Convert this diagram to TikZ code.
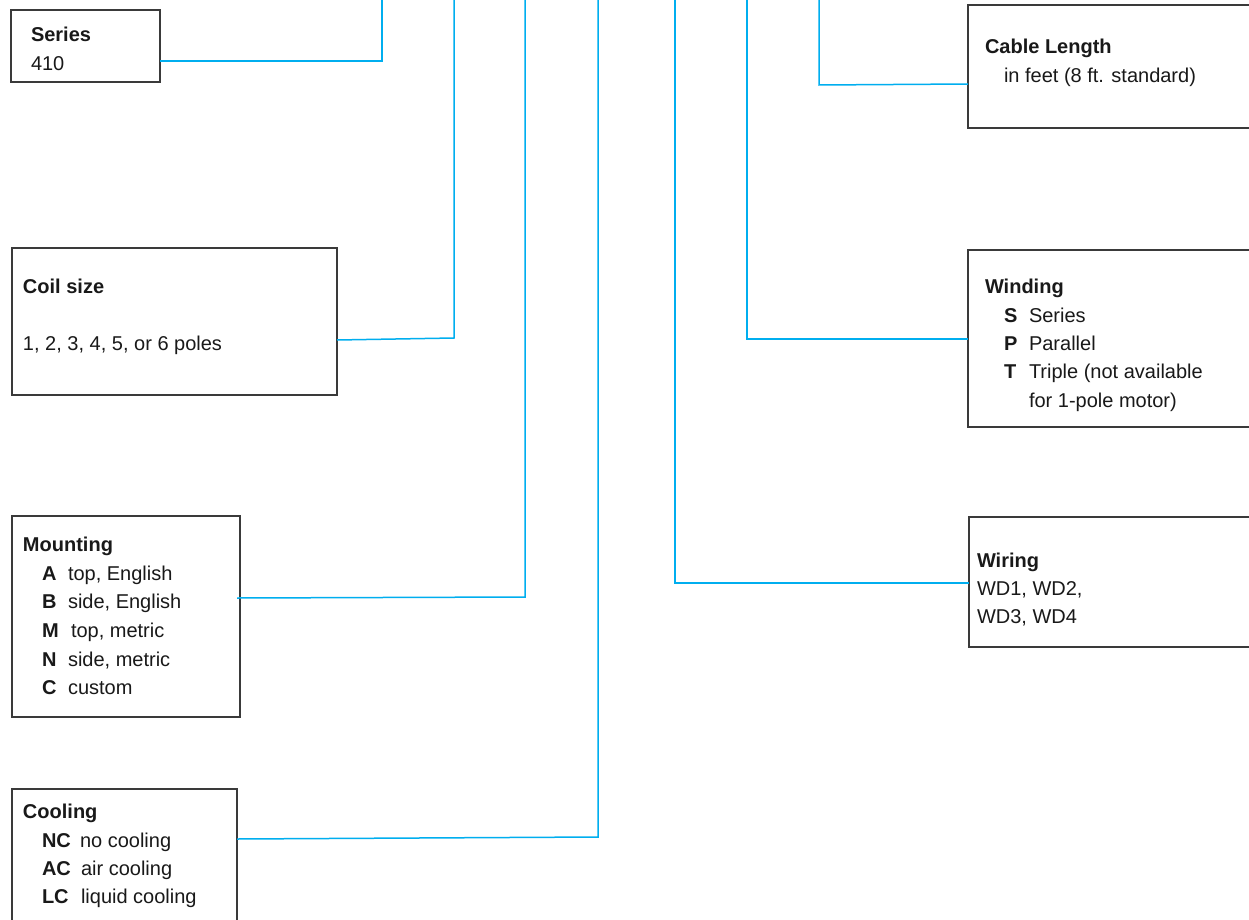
\documentclass[tikz,border=0pt]{standalone}
\usepackage{fontspec}
\setmainfont{Liberation Sans}
\definecolor{boxgray}{RGB}{58,58,58}
\definecolor{linecyan}{RGB}{0,174,239}
\tikzset{
  box/.style={draw=boxgray, line width=1.3pt, rectangle, inner sep=0pt, outer sep=0pt, anchor=north west},
  txt/.style={inner sep=0pt, outer sep=0pt, anchor=base west, text=black!90},
  conn/.style={draw=linecyan, line width=1.5pt, line cap=butt, line join=miter}
}
\newcommand{\sz}{\fontsize{20}{29}\selectfont}
\begin{document}
\begin{tikzpicture}[x=1pt, y=-1pt, font=\sz]
\useasboundingbox[fill=white] (0,0) rectangle (1249,920);

% ---------- boxes ----------
\node[box, minimum width=149pt, minimum height=72pt] (series) at (11,10) {};
\node[box, minimum width=325pt, minimum height=147pt] (coil) at (12,248) {};
\node[box, minimum width=228pt, minimum height=201pt] (mount) at (12,516) {};
\node[box, minimum width=225pt, minimum height=145pt] (cool) at (12,789) {};
\node[box, minimum width=300pt, minimum height=123pt] (cable) at (968,5) {};
\node[box, minimum width=300pt, minimum height=177pt] (wind) at (968,250) {};
\node[box, minimum width=300pt, minimum height=130pt] (wiring) at (969,517) {};

% ---------- texts ----------
\node[txt] (seriesT) at (31,42) {\textbf{Series}};
\node[txt] (seriesV) at (31,71) {410};

\node[txt] (coilT) at (23,293) {\textbf{Coil size}};
\node[txt] (coilV) at (23,350) {1, 2, 3, 4, 5, or 6 poles};

\node[txt] (mountT) at (23,551) {\textbf{Mounting}};
\node[txt] (mA) at (42,580) {\textbf{A}};
\node[txt] (mAt) at (68,580) {top, English};
\node[txt] (mB) at (42,608) {\textbf{B}};
\node[txt] (mBt) at (68,608) {side, English};
\node[txt] (mM) at (42,637) {\textbf{M}};
\node[txt] (mMt) at (71,637) {top, metric};
\node[txt] (mN) at (42,666) {\textbf{N}};
\node[txt] (mNt) at (68,666) {side, metric};
\node[txt] (mC) at (42,694) {\textbf{C}};
\node[txt] (mCt) at (68,694) {custom};

\node[txt] (coolT) at (23,818) {\textbf{Cooling}};
\node[txt] (cNC) at (42,847) {\textbf{NC}};
\node[txt] (cNCt) at (80,847) {no cooling};
\node[txt] (cAC) at (42,875) {\textbf{AC}};
\node[txt] (cACt) at (81,875) {air cooling};
\node[txt] (cLC) at (42,903) {\textbf{LC}};
\node[txt] (cLCt) at (81,903) {liquid cooling};

\node[txt] (cableT) at (985,54) {\textbf{Cable Length}};
\node[txt] (cableV) at (1004,83) {in feet (8 ft. standard)};

\node[txt] (windT) at (985,293) {\textbf{Winding}};
\node[txt] (wS) at (1004,322) {\textbf{S}};
\node[txt] (wSt) at (1029,322) {Series};
\node[txt] (wP) at (1004,350) {\textbf{P}};
\node[txt] (wPt) at (1029,350) {Parallel};
\node[txt] (wT) at (1004,378) {\textbf{T}};
\node[txt] (wTt) at (1029,378) {Triple (not available};
\node[txt] (wTt2) at (1029,407) {for 1-pole motor)};

\node[txt] (wiringT) at (977,567) {\textbf{Wiring}};
\node[txt] (wiringV1) at (977,595) {WD1, WD2,};
\node[txt] (wiringV2) at (977,623) {WD3, WD4};

% ---------- connector end points ----------
\coordinate (sA) at (160,61);   \coordinate (sB) at (382,61);  \coordinate (sC) at (382,-2);
\coordinate (kA) at (337,340);  \coordinate (kB) at (454,338); \coordinate (kC) at (454,-2);
\coordinate (mA1) at (237,598); \coordinate (mB1) at (525,597); \coordinate (mC1) at (525,-2);
\coordinate (oA) at (237,839);  \coordinate (oB) at (598,837); \coordinate (oC) at (598,-2);
\coordinate (lA) at (968,84);   \coordinate (lB) at (819,85);  \coordinate (lC) at (819,-2);
\coordinate (wA) at (968,339);  \coordinate (wB) at (747,339); \coordinate (wC) at (747,-2);
\coordinate (rA) at (969,583);  \coordinate (rB) at (675,583); \coordinate (rC) at (675,-2);

% ---------- connectors ----------
\draw[conn] (series.east |- sA) -- (sB) -- (sC);
\draw[conn] (coil.east |- kA) -- (kB) -- (kC);
\draw[conn] (mA1) -- (mB1) -- (mC1);
\draw[conn] (cool.east |- oA) -- (oB) -- (oC);
\draw[conn] (cable.west |- lA) -- (lB) -- (lC);
\draw[conn] (wind.west |- wA) -- (wB) -- (wC);
\draw[conn] (wiring.west |- rA) -- (rB) -- (rC);
\end{tikzpicture}
\end{document}
